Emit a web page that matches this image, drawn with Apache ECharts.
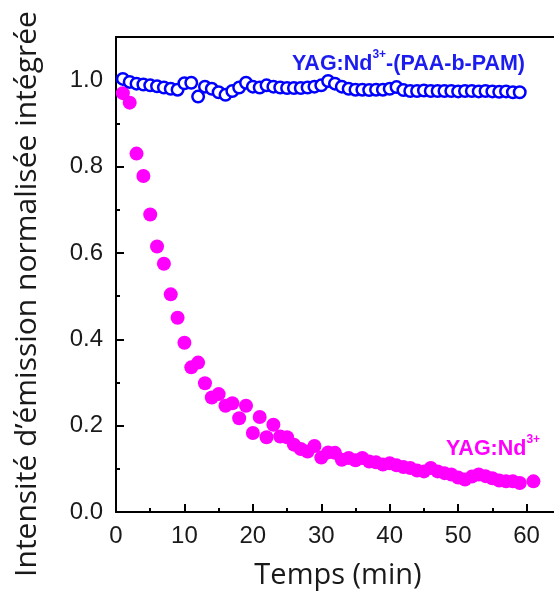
<!DOCTYPE html>
<html>
<head>
<meta charset="utf-8">
<script src="https://cdn.jsdelivr.net/npm/echarts@6/dist/echarts.min.js"></script>
<style>
html,body{margin:0;padding:0;background:#fff;}
#chart{width:554px;height:596px;}
</style>
</head>
<body>
<div id="chart"></div>
<script>
// Time (min) for the PAA-b-PAM coated sample
const timeBlue = [1,2,3,4,5,6,7,8,9,10,11,12,13,14,15,16,17,18,19,20,21,22,23,24,25,26,27,28,29,30,31,32,33,34,35,36,37,38,39,40,41,42,43,44,45,46,47,48,49,50,51,52,53,54,55,56,57,58,59];
const valuesBlue = [1.003,0.996,0.992,0.990,0.988,0.986,0.983,0.980,0.978,0.993,0.994,0.962,0.985,0.980,0.972,0.966,0.975,0.983,0.994,0.985,0.983,0.988,0.985,0.983,0.982,0.982,0.982,0.983,0.985,0.988,0.998,0.992,0.985,0.980,0.978,0.978,0.977,0.978,0.978,0.980,0.984,0.977,0.975,0.975,0.976,0.975,0.975,0.975,0.975,0.974,0.975,0.975,0.974,0.975,0.974,0.973,0.974,0.972,0.972];
// Time (min) for the bare YAG:Nd3+ sample
const timeMagenta = [1,2,3,4,5,6,7,8,9,10,11,12,13,14,15,16,17,18,19,20,21,22,23,24,25,26,27,28,29,30,31,32,33,34,35,36,37,38,39,40,41,42,43,44,45,46,47,48,49,50,51,52,53,54,55,56,57,58,59,61];
const valuesMagenta = [0.970,0.948,0.830,0.778,0.689,0.615,0.575,0.504,0.450,0.392,0.335,0.346,0.298,0.265,0.273,0.246,0.252,0.217,0.246,0.183,0.220,0.173,0.202,0.175,0.173,0.156,0.146,0.140,0.153,0.126,0.138,0.137,0.121,0.125,0.120,0.125,0.117,0.115,0.110,0.113,0.108,0.104,0.102,0.096,0.094,0.102,0.094,0.090,0.087,0.080,0.075,0.082,0.087,0.083,0.078,0.073,0.071,0.071,0.067,0.071];
const xTickLabels = ['0','10','20','30','40','50','60'];
const yTickLabels = ['0.0','0.2','0.4','0.6','0.8','1.0'];
const xTitle = 'Temps (min)';
const yTitle = 'Intensité d\u2019émission normalisée intégrée';
const labelBlue = ['YAG:Nd', '3+', '-(PAA-b-PAM)'];
const labelMagenta = ['YAG:Nd', '3+'];

const chart = echarts.init(document.getElementById('chart'), null, {renderer:'canvas'});
const blueData = timeBlue.map((t,i)=>[t, valuesBlue[i]]);
const magData = timeMagenta.map((t,i)=>[t, valuesMagenta[i]]);
const tickFont = 'Liberation Sans';
const axisColor = '#000';

function xfmt(v){ const s = String(Math.round(v)); return (Math.abs(v % 10) < 1e-6 && xTickLabels.indexOf(s) >= 0) ? s : ''; }
function yfmt(v){ const s = v.toFixed(1); return (Math.abs(v*5 - Math.round(v*5)) < 1e-6 && yTickLabels.indexOf(s) >= 0) ? s : ''; }

const option = {
  animation: false,
  backgroundColor: '#fff',
  grid: {left: 116, top: 37, width: 479, height: 475, containLabel: false, outerBoundsMode: 'none'},
  xAxis: [{
    type: 'value', min: 0, max: 70, interval: 10, position: 'bottom',
    axisLine: {show: true, onZero: false, lineStyle: {color: axisColor, width: 2}},
    axisTick: {show: true, inside: true, length: 8, lineStyle: {color: axisColor, width: 2}},
    minorTick: {show: true, splitNumber: 2, length: 4, lineStyle: {color: axisColor, width: 2}},
    axisLabel: {formatter: xfmt, fontFamily: tickFont, fontSize: 24, color: '#1a1a1a', margin: 12},
    splitLine: {show: false}
  },{
    type: 'value', min: 0, max: 70, position: 'top',
    axisLine: {show: true, onZero: false, lineStyle: {color: axisColor, width: 2}},
    axisTick: {show: false}, axisLabel: {show: false}, splitLine: {show: false}
  }],
  yAxis: [{
    type: 'value', min: 0, max: 1.1, interval: 0.2, position: 'left',
    axisLine: {show: true, onZero: false, lineStyle: {color: axisColor, width: 2}},
    axisTick: {show: true, inside: true, length: 8, lineStyle: {color: axisColor, width: 2}},
    axisLabel: {formatter: yfmt, fontFamily: tickFont, fontSize: 24, color: '#1a1a1a', margin: 13},
    splitLine: {show: false}
  },{
    type: 'value', min: 0, max: 1.1, interval: 0.1, position: 'left', offset: 0,
    axisLine: {show: false},
    axisTick: {show: true, inside: true, length: 4, lineStyle: {color: axisColor, width: 2}},
    axisLabel: {show: false}, splitLine: {show: false}
  }],
  series: [{
    name: 'YAG:Nd3+', type: 'scatter', xAxisIndex: 0, yAxisIndex: 0,
    data: magData, symbol: 'circle', symbolSize: 14,
    itemStyle: {color: '#ff00ff', opacity: 1}, z: 2
  },{
    name: 'YAG:Nd3+-(PAA-b-PAM)', type: 'scatter', xAxisIndex: 0, yAxisIndex: 0,
    data: blueData, symbol: 'circle', symbolSize: 11.5,
    itemStyle: {color: '#ffffff', borderColor: '#0000ff', borderWidth: 2.5, opacity: 1}, z: 3
  }],
  graphic: [{
    type: 'text', x: 338, y: 576,
    style: {text: xTitle, font: '29px "Open Sans"', fill: '#1a1a1a', textAlign: 'center', textVerticalAlign: 'middle'}
  },{
    type: 'text', x: 27, y: 294, rotation: Math.PI/2,
    style: {text: yTitle, font: '30px "Open Sans"', fill: '#1a1a1a', textAlign: 'center', textVerticalAlign: 'middle'}
  },{
    type: 'text', x: 292, y: 62,
    style: {
      text: '{a|' + labelBlue[0] + '}{s|' + labelBlue[1] + '}{a|' + labelBlue[2] + '}',
      textVerticalAlign: 'middle',
      rich: {
        a: {font: 'bold 21.5px "Liberation Sans"', fill: '#1c1cf0', color: '#1c1cf0', verticalAlign: 'bottom', lineHeight: 27},
        s: {font: 'bold 12px "Liberation Sans"', fill: '#1c1cf0', color: '#1c1cf0', verticalAlign: 'top', lineHeight: 27}
      }
    }
  },{
    type: 'text', x: 446, y: 447,
    style: {
      text: '{a|' + labelMagenta[0] + '}{s|' + labelMagenta[1] + '}',
      textVerticalAlign: 'middle',
      rich: {
        a: {font: 'bold 21.5px "Liberation Sans"', fill: '#ff00ff', color: '#ff00ff', verticalAlign: 'bottom', lineHeight: 27},
        s: {font: 'bold 12px "Liberation Sans"', fill: '#ff00ff', color: '#ff00ff', verticalAlign: 'top', lineHeight: 27}
      }
    }
  }]
};
chart.setOption(option);
</script>
</body>
</html>
